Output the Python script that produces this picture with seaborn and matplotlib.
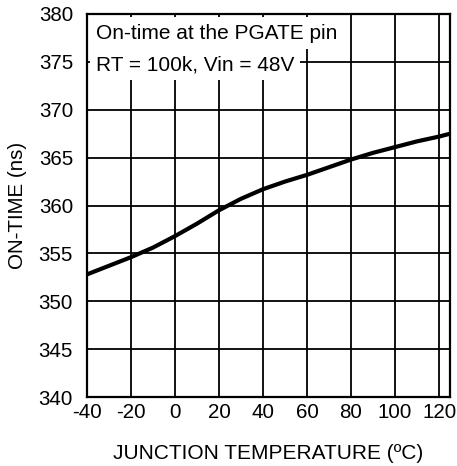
import matplotlib
matplotlib.use("Agg")
import matplotlib.pyplot as plt
import pandas as pd
import seaborn as sns

# Values
temperature_c = [-40, -30, -20, -10, 0, 10, 20, 30, 40, 50, 60, 70, 80, 90, 100, 110, 120, 125]
on_time_ns = [352.8, 353.7, 354.6, 355.6, 356.8, 358.1, 359.5, 360.7, 361.7, 362.5, 363.2, 364.0, 364.8, 365.5, 366.1, 366.7, 367.2, 367.5]

x_ticks = [-40, -20, 0, 20, 40, 60, 80, 100, 120]
y_ticks = [340, 345, 350, 355, 360, 365, 370, 375, 380]

df = pd.DataFrame({"temp": temperature_c, "on_time": on_time_ns})

sns.set_theme(style="white")
plt.rcParams["font.family"] = ["Liberation Sans", "DejaVu Sans"]
plt.rcParams["axes.unicode_minus"] = False

fig = plt.figure(figsize=(4.57, 4.66), dpi=100)
ax = fig.add_axes([0.190, 0.148, 0.795, 0.822])

sns.lineplot(data=df, x="temp", y="on_time", color="black", linewidth=3.0, ax=ax, zorder=3)

ax.set_xlim(-40, 125)
ax.set_ylim(340, 380)
ax.set_xticks(x_ticks)
ax.set_yticks(y_ticks)
ax.tick_params(axis="both", length=0, labelsize=14.8, colors="black")
ax.tick_params(axis="y", pad=10)
ax.tick_params(axis="x", pad=4)
ax.grid(True, color="black", linewidth=1.3)
for spine in ax.spines.values():
    spine.set_color("black")
    spine.set_linewidth(1.6)

ax.set_xlabel("JUNCTION TEMPERATURE (ºC)", fontsize=15, color="black", labelpad=16)
ax.set_ylabel("ON-TIME (ns)", fontsize=14.8, color="black", labelpad=8)

box = dict(facecolor="white", edgecolor="none", pad=4.5)
ax.text(-35.9, 378.0, "On-time at the PGATE pin", fontsize=15, color="black",
        va="center", ha="left", bbox=box, zorder=4)
ax.text(-35.9, 374.7, "RT = 100k, Vin = 48V", fontsize=15, color="black",
        va="center", ha="left", bbox=box, zorder=4)

fig.savefig("out.png", dpi=100)
